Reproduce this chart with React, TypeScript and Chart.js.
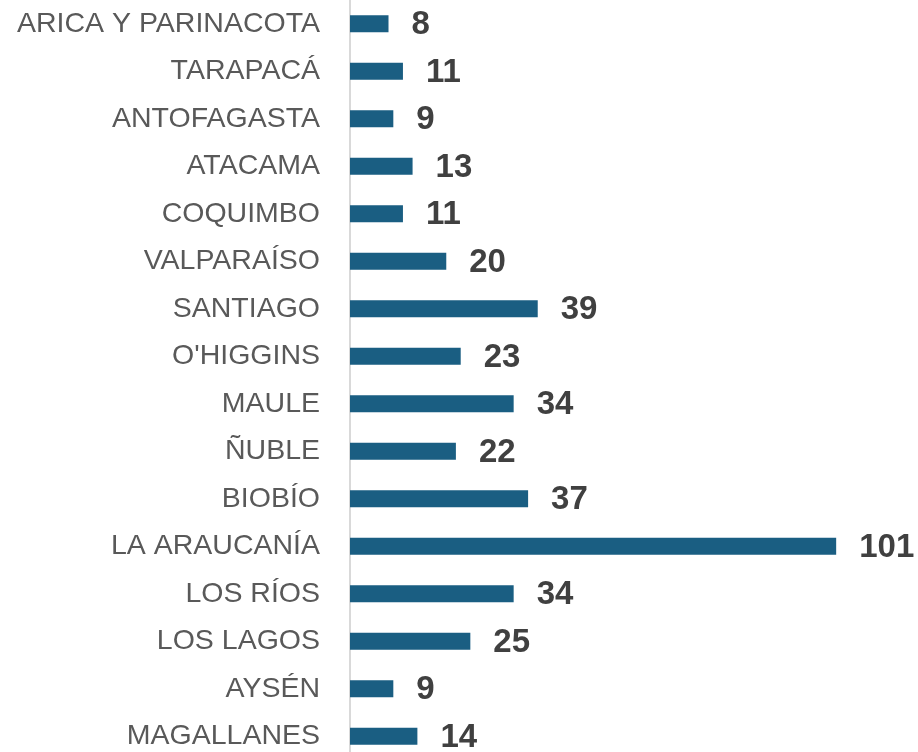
import React, { useEffect, useRef } from "react";
import { Chart, registerables } from "chart.js";

Chart.register(...registerables);

const regions = [
  "ARICA Y PARINACOTA",
  "TARAPACÁ",
  "ANTOFAGASTA",
  "ATACAMA",
  "COQUIMBO",
  "VALPARAÍSO",
  "SANTIAGO",
  "O'HIGGINS",
  "MAULE",
  "ÑUBLE",
  "BIOBÍO",
  "LA ARAUCANÍA",
  "LOS RÍOS",
  "LOS LAGOS",
  "AYSÉN",
  "MAGALLANES",
];

const counts = [8, 11, 9, 13, 11, 20, 39, 23, 34, 22, 37, 101, 34, 25, 9, 14];

const valueLabels = {
  id: "valueLabels",
  afterDatasetsDraw(chart: any) {
    const ctx = chart.ctx;
    const meta = chart.getDatasetMeta(0);
    ctx.save();
    ctx.font = "bold 33px 'Liberation Sans', Arial, sans-serif";
    ctx.fillStyle = "#404040";
    ctx.textAlign = "left";
    ctx.textBaseline = "middle";
    meta.data.forEach((bar: any, i: number) => {
      ctx.fillText(String(counts[i]), bar.x + 23, bar.y + 1.5);
    });
    ctx.restore();
  },
};

export default function App() {
  const ref = useRef<HTMLCanvasElement | null>(null);

  useEffect(() => {
    if (!ref.current) return;
    const chart = new Chart(ref.current, {
      type: "bar",
      data: {
        labels: regions,
        datasets: [
          {
            data: counts,
            backgroundColor: "#1a5e82",
            borderWidth: 0,
            barPercentage: 0.72,
            categoryPercentage: 0.5,
          },
        ],
      },
      options: {
        indexAxis: "y",
        animation: false,
        responsive: false,
        maintainAspectRatio: false,
        layout: { padding: 0 },
        plugins: {
          legend: { display: false },
          tooltip: { enabled: false },
        },
        scales: {
          x: {
            display: false,
            min: 0,
            max: 118,
          },
          y: {
            afterFit: (scale: any) => {
              scale.width = 350;
              scale.paddingTop = 0;
              scale.paddingBottom = 0;
            },
            grid: { display: false, drawTicks: false },
            border: { display: true, color: "#d9d9d9", width: 2 },
            ticks: {
              padding: 30,
              color: "#595959",
              font: { family: "'Liberation Sans', Arial, sans-serif", size: 28.5 },
            },
          },
        },
      },
      plugins: [valueLabels],
    });
    return () => chart.destroy();
  }, []);

  return (
    <div style={{ position: "fixed", left: 0, top: 0, width: 918, height: 760 }}>
      <canvas ref={ref} width={918} height={760} style={{ display: "block" }} />
    </div>
  );
}
